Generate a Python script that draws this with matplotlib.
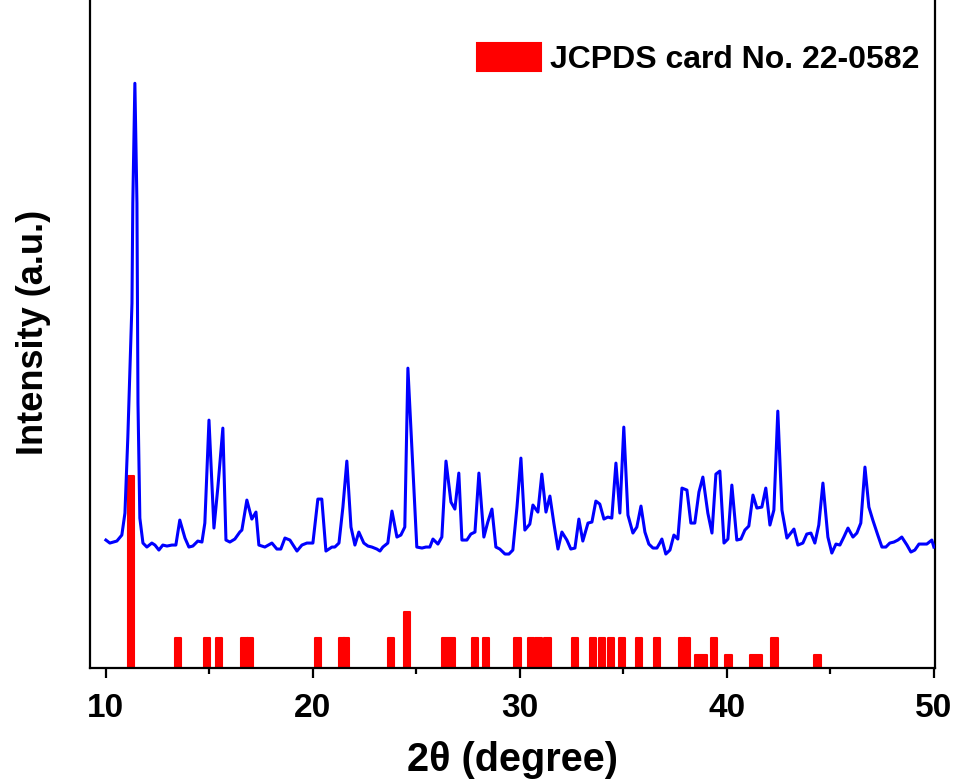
import numpy as np
import matplotlib
matplotlib.use("Agg")
import matplotlib.pyplot as plt

# measured pattern (2theta in degree, intensity in a.u.)
two_theta = [10.00, 10.19, 10.53, 10.77, 10.92, 11.06, 11.26, 11.30, 11.40, 11.50, 11.55, 11.64,
             11.79, 11.98, 12.22, 12.37, 12.56, 12.75, 12.95, 13.19, 13.38, 13.57, 13.82, 14.01,
             14.20, 14.44, 14.64, 14.78, 14.98, 15.22, 15.41, 15.65, 15.80, 15.99, 16.23, 16.47,
             16.57, 16.81, 17.05, 17.25, 17.39, 17.68, 18.02, 18.26, 18.45, 18.65, 18.89, 19.23,
             19.47, 19.71, 20.00, 20.24, 20.43, 20.63, 20.92, 21.06, 21.26, 21.45, 21.64, 21.84,
             22.03, 22.22, 22.46, 22.66, 22.85, 23.09, 23.24, 23.38, 23.62, 23.82, 24.06, 24.25,
             24.44, 24.59, 24.78, 25.02, 25.27, 25.46, 25.65, 25.80, 26.04, 26.23, 26.43, 26.67,
             26.86, 27.05, 27.20, 27.44, 27.63, 27.83, 28.02, 28.26, 28.45, 28.65, 28.84, 29.03,
             29.28, 29.47, 29.66, 29.86, 30.05, 30.24, 30.48, 30.63, 30.87, 31.06, 31.26, 31.45,
             31.64, 31.84, 32.03, 32.27, 32.46, 32.66, 32.85, 33.04, 33.29, 33.48, 33.67, 33.86,
             34.06, 34.25, 34.44, 34.64, 34.83, 35.02, 35.22, 35.46, 35.65, 35.85, 36.04, 36.23,
             36.43, 36.62, 36.76, 36.86, 37.05, 37.25, 37.44, 37.63, 37.83, 38.07, 38.26, 38.45,
             38.65, 38.84, 39.08, 39.28, 39.47, 39.66, 39.86, 40.05, 40.24, 40.48, 40.68, 40.87,
             41.06, 41.26, 41.45, 41.69, 41.88, 42.08, 42.27, 42.46, 42.66, 42.90, 43.09, 43.24,
             43.43, 43.67, 43.86, 44.06, 44.25, 44.44, 44.64, 44.88, 45.07, 45.27, 45.46, 45.65,
             45.85, 46.09, 46.28, 46.47, 46.67, 46.86, 47.05, 47.29, 47.49, 47.68, 47.87, 48.07,
             48.26, 48.45, 48.70, 48.89, 49.08, 49.28, 49.47, 49.66, 49.90, 50.00]
intensity = [128, 125, 127, 133, 155, 231, 365, 465, 585, 465, 265, 150,
             125, 121, 125, 123, 118, 123, 122, 123, 123, 148, 130, 121,
             122, 127, 126, 145, 248, 140, 181, 240, 128, 126, 129, 136,
             138, 168, 149, 156, 123, 121, 125, 119, 119, 130, 128, 117,
             123, 125, 125, 169, 169, 117, 121, 121, 125, 161, 207, 141,
             123, 136, 125, 122, 121, 119, 117, 121, 125, 157, 131, 133,
             141, 300, 221, 121, 120, 121, 121, 129, 124, 131, 207, 166,
             159, 195, 128, 128, 134, 136, 195, 131, 146, 159, 121, 119,
             114, 114, 118, 161, 210, 138, 144, 163, 156, 194, 156, 172,
             145, 119, 136, 128, 119, 120, 149, 127, 145, 146, 167, 164,
             149, 151, 150, 205, 155, 241, 153, 135, 141, 162, 136, 124,
             120, 120, 125, 129, 114, 118, 133, 129, 180, 178, 145, 145,
             176, 191, 155, 135, 194, 197, 125, 129, 183, 128, 129, 138,
             142, 173, 160, 161, 180, 143, 158, 257, 158, 130, 135, 139,
             123, 125, 134, 135, 125, 143, 185, 131, 115, 124, 123, 131,
             140, 131, 135, 145, 201, 161, 148, 133, 121, 121, 125, 126,
             128, 131, 123, 116, 118, 124, 124, 124, 128, 121]

# JCPDS card No. 22-0582 reference lines
card_pos = [11.22, 13.50, 14.88, 15.46, 16.70, 16.95, 20.24, 21.40, 21.60, 23.77, 24.54,
            26.40, 26.70, 27.85, 28.38, 29.88, 30.55, 30.90, 31.33, 32.68, 33.55, 33.98,
            34.42, 34.92, 35.75, 36.62, 37.82, 38.08, 38.62, 38.88, 39.37, 40.08, 41.25,
            41.55, 42.30, 44.38]
card_int = [192, 30, 30, 30, 30, 30, 30, 30, 30, 30, 56,
            30, 30, 30, 30, 30, 30, 30, 30, 30, 30, 30,
            30, 30, 30, 30, 30, 30, 13, 13, 30, 13, 13,
            13, 30, 13]

tick_labels = ['10', '20', '30', '40', '50']

plt.rcParams['font.family'] = ['Liberation Sans', 'DejaVu Sans']
plt.rcParams['font.weight'] = 'bold'

fig = plt.figure(figsize=(9.58, 7.81), dpi=100)
ax = fig.add_axes([0.0939, 0.1447, 0.882, 0.86])

ax.bar(card_pos, card_int, width=0.3, color='#ff0000', edgecolor='#ff0000',
       linewidth=1.5, joinstyle='round', label='JCPDS card No. 22-0582', zorder=2)
ax.plot(two_theta, intensity, color='#0000ff', lw=2.2, zorder=3)

ax.set_xlim(9.23, 50.05)
ax.set_ylim(0, 672)
ax.set_xticks([10, 20, 30, 40, 50])
ax.set_xticks([15, 25, 35, 45], minor=True)
ax.set_yticks([])
ax.set_xticklabels(tick_labels, fontsize=24, fontweight='bold')
ax.tick_params(axis='x', which='major', direction='out', length=7, width=1.6, pad=11)
ax.tick_params(axis='x', which='minor', direction='out', length=4, width=1.6)
for s in ax.spines.values():
    s.set_linewidth(1.6)

ax.set_xlabel('2θ (degree)', fontsize=28.5, fontweight='bold', labelpad=12)
ax.set_ylabel('Intensity (a.u.)', fontsize=26, fontweight='bold', labelpad=28)

leg = ax.legend(loc='upper right', bbox_to_anchor=(0.982, 0.931), frameon=False,
                fontsize=23, handlelength=2.0, handleheight=1.0, handletextpad=0.3,
                borderpad=0, borderaxespad=0)

fig.savefig('out.png', dpi=100)
